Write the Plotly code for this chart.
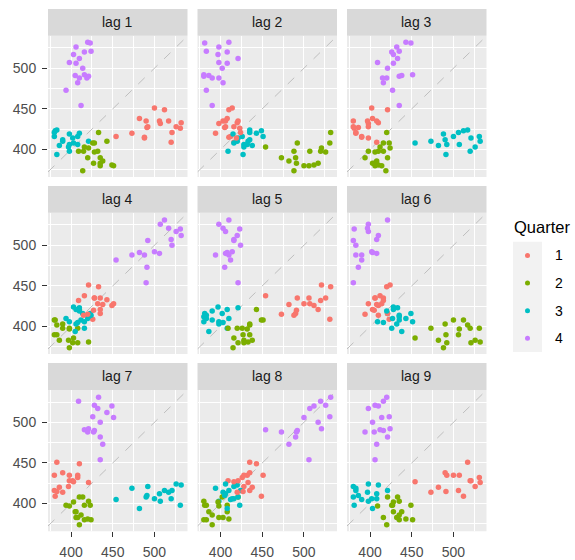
import plotly.graph_objects as go

# Quarterly series (1992 Q1 - 2010 Q2)
years = list(range(1992, 2011))
q1 = [443, 433, 449, 426, 409, 432, 428, 435, 421, 451, 428, 435, 435, 416, 438, 427, 420, 415, 414]
q2 = [410, 421, 381, 408, 398, 398, 397, 383, 402, 380, 408, 380, 390, 403, 386, 383, 390, 398, 374]
q3 = [420, 410, 423, 416, 398, 406, 403, 424, 414, 416, 406, 421, 412, 408, 405, 394, 410, 419]
q4 = [532, 512, 531, 520, 507, 526, 517, 521, 500, 492, 506, 490, 454, 482, 491, 473, 488, 488]

lags = [1, 2, 3, 4, 5, 6, 7, 8, 9]
quarter_labels = ["1", "2", "3", "4"]
colors = ["#F8766D", "#7CAE00", "#00BFC4", "#C77CFF"]
x_ticks = [400, 450, 500]
y_ticks = [400, 450, 500]
minor_ticks = [375, 425, 475, 525]

# assemble time series in order
series, quarters = [], []
for i in range(len(years)):
    for q, arr in enumerate([q1, q2, q3, q4]):
        if i < len(arr):
            series.append(arr[i])
            quarters.append(q)

W, H = 575, 560
fig = go.Figure()

def expand(lo, hi, f=0.05):
    d = (hi - lo) * f
    return [lo - d, hi + d]

yr = expand(min(series), max(series))
xr = expand(min(series[:-1]), max(series[:-1]))
dlo, dhi = max(xr[0], yr[0]), min(xr[1], yr[1])

FONT = "Liberation Sans, Arial"
shapes, annotations = [], []
layout = {}
for idx, k in enumerate(lags):
    r, c = idx // 3, idx % 3
    n = idx + 1
    xa = "x" if n == 1 else f"x{n}"
    ya = "y" if n == 1 else f"y{n}"
    left = 48 + c * 149.5
    right = left + 139.5
    top = 36 + r * 178
    bottom = top + 142
    xs = series[:-k]
    ys = series[k:]
    qs = quarters[k:]
    # diagonal
    fig.add_trace(go.Scatter(x=[dlo, dhi], y=[dlo, dhi], mode="lines",
                             line=dict(color="#BEBEBE", width=1, dash="dash"),
                             xaxis=xa, yaxis=ya, showlegend=False, hoverinfo="skip"))
    # points in time order, coloured by quarter
    fig.add_trace(go.Scatter(x=xs, y=ys, mode="markers",
                             marker=dict(color=[colors[q] for q in qs], size=5.5),
                             text=[f"Quarter {quarter_labels[q]}" for q in qs],
                             xaxis=xa, yaxis=ya, showlegend=False, name=f"lag {k}"))
    axcommon = dict(showgrid=True, gridcolor="white", gridwidth=1.1, zeroline=False,
                    ticklen=5, tickcolor="#333333", tickwidth=1,
                    ticklabelstandoff=3,
                    tickfont=dict(family=FONT, size=14, color="#4D4D4D"),
                    showline=False,
                    minor=dict(tickvals=minor_ticks, showgrid=True, gridcolor="white",
                               gridwidth=0.5, ticks=""))
    xkey = "xaxis" if n == 1 else f"xaxis{n}"
    ykey = "yaxis" if n == 1 else f"yaxis{n}"
    layout[xkey] = dict(axcommon, domain=[left / W, right / W], range=xr,
                        tickvals=x_ticks, anchor=ya,
                        showticklabels=(r == 2), ticks=("outside" if r == 2 else ""))
    layout[ykey] = dict(axcommon, domain=[(H - bottom) / H, (H - top) / H], range=yr,
                        tickvals=y_ticks, anchor=xa,
                        showticklabels=(c == 0), ticks=("outside" if c == 0 else ""))
    # panel background
    shapes.append(dict(type="rect", xref=f"{xa} domain", yref=f"{ya} domain",
                       x0=0, x1=1, y0=0, y1=1, fillcolor="#EBEBEB",
                       line=dict(width=0), layer="below"))
    # strip
    shapes.append(dict(type="rect", xref="paper", yref="paper",
                       x0=left / W, x1=right / W, y0=(H - top) / H, y1=(H - top + 27) / H,
                       fillcolor="#D9D9D9", line=dict(width=0), layer="below"))
    annotations.append(dict(text=f"lag {k}", xref="paper", yref="paper",
                            x=(left + right) / 2 / W, y=(H - top + 13.5) / H,
                            showarrow=False, xanchor="center", yanchor="middle",
                            font=dict(family=FONT, size=14, color="#1A1A1A")))

# manual legend
kx0, kx1, ky0, ky1 = 513, 542, 243, 354
layout["xaxis10"] = dict(domain=[kx0 / W, kx1 / W], range=[0, 1], visible=False,
                         anchor="y10", fixedrange=True)
layout["yaxis10"] = dict(domain=[(H - ky1) / H, (H - ky0) / H], range=[4, 0], visible=False,
                         anchor="x10", fixedrange=True)
shapes.append(dict(type="rect", xref="paper", yref="paper", x0=kx0 / W, x1=kx1 / W,
                   y0=(H - ky1) / H, y1=(H - ky0) / H, fillcolor="#F2F2F2",
                   line=dict(width=0), layer="below"))
for q in range(4):
    fig.add_trace(go.Scatter(x=[0.5], y=[q + 0.5], mode="markers",
                             marker=dict(color=colors[q], size=5),
                             xaxis="x10", yaxis="y10", showlegend=False,
                             name=quarter_labels[q], hoverinfo="skip"))
    annotations.append(dict(text=quarter_labels[q], xref="paper", yref="paper",
                            x=553 / W, y=(H - (ky0 + (q + 0.5) * (ky1 - ky0) / 4)) / H,
                            showarrow=False, xanchor="left", yanchor="middle",
                            font=dict(family=FONT, size=14, color="black")))
annotations.append(dict(text="Quarter", xref="paper", yref="paper",
                        x=512 / W, y=(H - 228) / H, showarrow=False,
                        xanchor="left", yanchor="middle",
                        font=dict(family=FONT, size=16.5, color="black")))

fig.update_layout(width=W, height=H, margin=dict(l=0, r=0, t=0, b=0),
                  paper_bgcolor="white", plot_bgcolor="rgba(0,0,0,0)",
                  showlegend=False, shapes=shapes, annotations=annotations, **layout)

fig.write_html("out.html")
